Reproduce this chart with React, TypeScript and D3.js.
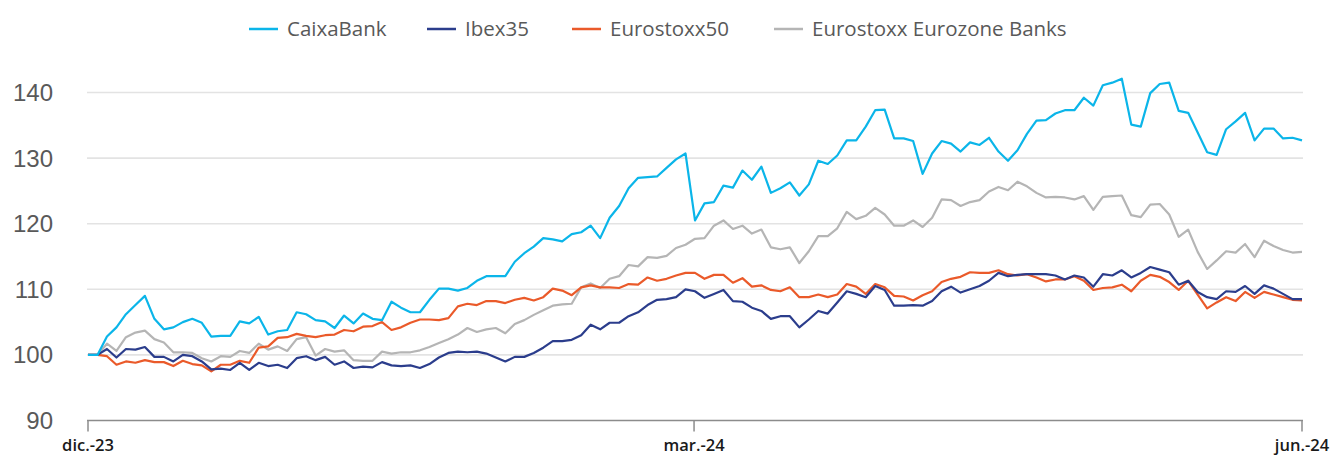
import * as d3 from 'd3';

const W = 1336;
const H = 457;

const seriesNames = ['CaixaBank', 'Ibex35', 'Eurostoxx50', 'Eurostoxx Eurozone Banks'];
const seriesColors = ['#0bb5e9', '#2b3d8c', '#ea5a2a', '#b5b5b5'];

const xTickLabels = ['dic.-23', 'mar.-24', 'jun.-24'];
const xTickIndex = [0, 63.9, 128];
const yTicks = [90, 100, 110, 120, 130, 140];

const caixaBank = [
  100, 100, 102.8, 104.2, 106.2, 107.6, 109.0, 105.5, 103.9, 104.2, 105.0, 105.5, 104.9, 102.8, 102.9, 102.9,
  105.1, 104.8, 105.8, 103.1, 103.6, 103.8, 106.5, 106.2, 105.3, 105.1, 104.1, 106.0, 104.8, 106.3, 105.5, 105.3,
  108.1, 107.2, 106.5, 106.5, 108.4, 110.1, 110.1, 109.8, 110.2, 111.3, 112.0, 112.0, 112.0, 114.2, 115.5, 116.5,
  117.8, 117.6, 117.3, 118.4, 118.7, 119.7, 117.8, 120.9, 122.7, 125.4, 127.0, 127.1, 127.2, 128.5, 129.8, 130.7,
  120.5, 123.1, 123.3, 125.8, 125.5, 128.1, 126.7, 128.7, 124.7, 125.4, 126.3, 124.3, 126.0, 129.6, 129.1, 130.4,
  132.7, 132.7, 134.8, 137.3, 137.4, 133.0, 133.0, 132.6, 127.6, 130.7, 132.6, 132.2, 131.0, 132.4, 132.0, 133.1,
  131.0, 129.6, 131.2, 133.7, 135.7, 135.8, 136.8, 137.3, 137.3, 139.2, 138.0, 141.1, 141.5, 142.1, 135.1, 134.8,
  139.9, 141.3, 141.5, 137.2, 136.9, 133.9, 130.9, 130.5, 134.4, 135.6, 136.9, 132.7, 134.5, 134.5, 133.0, 133.1,
  132.7,
];

const ibex35 = [
  100, 100, 100.9, 99.6, 100.9, 100.8, 101.2, 99.7, 99.7, 99.0, 100.0, 99.8, 99.0, 97.8, 97.9, 97.7,
  98.8, 97.7, 98.8, 98.3, 98.5, 98.0, 99.5, 99.8, 99.2, 99.7, 98.5, 99.0, 98.0, 98.2, 98.1, 98.9,
  98.4, 98.3, 98.4, 98.0, 98.6, 99.6, 100.3, 100.5, 100.4, 100.5, 100.2, 99.6, 99.0, 99.7, 99.7, 100.3,
  101.1, 102.1, 102.1, 102.3, 103.0, 104.6, 103.9, 104.9, 104.9, 105.9, 106.5, 107.6, 108.4, 108.5, 108.8, 110.0,
  109.7, 108.7, 109.3, 109.9, 108.2, 108.1, 107.2, 106.7, 105.5, 105.9, 105.9, 104.2, 105.4, 106.7, 106.3, 108.0,
  109.7, 109.3, 108.8, 110.5, 109.9, 107.5, 107.5, 107.6, 107.5, 108.2, 109.7, 110.4, 109.5, 110.0, 110.5, 111.3,
  112.5, 112.0, 112.2, 112.3, 112.3, 112.3, 112.1, 111.5, 112.1, 111.8, 110.4, 112.3, 112.1, 112.9, 111.8, 112.5,
  113.4, 113.0, 112.6, 110.7, 111.3, 109.6, 108.8, 108.5, 109.7, 109.6, 110.5, 109.3, 110.6, 110.1, 109.3, 108.5,
  108.5,
];

const eurostoxx50 = [
  100, 100, 99.8, 98.5, 99.0, 98.8, 99.2, 98.9, 98.9, 98.3, 99.1, 98.6, 98.4, 97.5, 98.5, 98.5,
  99.1, 98.8, 101.1, 101.3, 102.6, 102.7, 103.2, 102.9, 102.7, 103.0, 103.1, 103.8, 103.6, 104.3, 104.4, 105.0,
  103.8, 104.2, 104.9, 105.4, 105.4, 105.3, 105.6, 107.4, 107.8, 107.6, 108.2, 108.2, 107.9, 108.4, 108.7, 108.3,
  108.8, 110.1, 109.8, 109.1, 110.3, 110.6, 110.3, 110.3, 110.2, 110.8, 110.7, 111.8, 111.3, 111.6, 112.1, 112.5,
  112.5, 111.6, 112.2, 112.2, 111.0, 111.7, 110.4, 110.6, 109.9, 109.7, 110.3, 108.8, 108.8, 109.2, 108.8, 109.2,
  110.8, 110.4, 109.3, 110.8, 110.3, 109.0, 108.9, 108.3, 109.1, 109.7, 111.1, 111.6, 111.9, 112.6, 112.5, 112.5,
  112.9, 112.3, 112.1, 112.3, 111.8, 111.2, 111.5, 111.5, 112.0, 111.3, 109.9, 110.2, 110.3, 110.7, 109.7, 111.3,
  112.2, 111.9, 111.1, 109.9, 111.3, 109.2, 107.1, 108.0, 108.8, 108.2, 109.6, 108.7, 109.6, 109.2, 108.8, 108.4,
  108.3,
];

const eurozoneBanks = [
  100, 100, 101.7, 100.6, 102.7, 103.4, 103.7, 102.4, 101.9, 100.4, 100.4, 100.3, 99.5, 99.0, 99.8, 99.7,
  100.6, 100.3, 101.7, 100.8, 101.3, 100.6, 102.4, 102.7, 99.9, 100.9, 100.5, 100.7, 99.2, 99.1, 99.1, 100.5,
  100.2, 100.4, 100.4, 100.7, 101.2, 101.8, 102.4, 103.1, 104.1, 103.5, 103.9, 104.1, 103.3, 104.7, 105.3, 106.1,
  106.8, 107.5, 107.7, 107.8, 110.3, 110.9, 110.2, 111.6, 112.0, 113.7, 113.5, 114.9, 114.8, 115.1, 116.3, 116.8,
  117.7, 117.8, 119.7, 120.5, 119.2, 119.7, 118.5, 119.1, 116.4, 116.1, 116.4, 114.0, 115.8, 118.1, 118.1, 119.3,
  121.8, 120.7, 121.2, 122.4, 121.4, 119.7, 119.7, 120.5, 119.5, 120.9, 123.7, 123.6, 122.7, 123.3, 123.6, 124.9,
  125.6, 125.1, 126.4, 125.7, 124.7, 124.0, 124.1, 124.0, 123.7, 124.2, 122.1, 124.1, 124.2, 124.3, 121.3, 121.0,
  122.9, 123.0, 121.4, 118.0, 119.1, 115.7, 113.1, 114.4, 115.8, 115.6, 116.9, 114.9, 117.4, 116.6, 116.0, 115.6,
  115.7,
];

const seriesData = [caixaBank, ibex35, eurostoxx50, eurozoneBanks];
// draw order: grey at back, blue on top
const drawOrder = [3, 2, 1, 0];

export default function App() {
  const n = caixaBank.length;
  const x = d3.scaleLinear().domain([0, n - 1]).range([88, 1302]);
  const y = d3.scaleLinear().domain([90, 140]).range([420.5, 92.5]);

  const line = d3
    .line<number>()
    .x((_, i) => x(i))
    .y((d) => y(d));

  const legendX = [249, 427, 572, 774];

  return (
    <svg
      width={W}
      height={H}
      style={{ position: 'absolute', left: 0, top: 0, background: '#fff' }}
    >
      {/* legend */}
      {seriesNames.map((name, i) => (
        <g key={name} transform={`translate(${legendX[i]},29)`}>
          <line x1={0} x2={29} y1={0} y2={0} stroke={seriesColors[i]} strokeWidth={2.5} />
          <text
            x={38}
            y={0}
            dy="0.35em"
            fontFamily="'Open Sans', sans-serif"
            fontSize={20.5}
            fill="#595959"
          >
            {name}
          </text>
        </g>
      ))}

      {/* gridlines */}
      {yTicks
        .filter((t) => t > 90)
        .map((t) => (
          <line key={t} x1={87} x2={1303} y1={y(t)} y2={y(t)} stroke="#e3e3e3" strokeWidth={1.6} />
        ))}

      {/* y labels */}
      {yTicks.map((t) => (
        <text
          key={t}
          x={53}
          y={y(t)}
          dy="0.35em"
          textAnchor="end"
          fontFamily="'Liberation Sans', Arial, sans-serif"
          fontSize={24}
          fill="#595959"
        >
          {t}
        </text>
      ))}

      {/* x axis */}
      <line x1={87} x2={1303} y1={y(90)} y2={y(90)} stroke="#8c8c8c" strokeWidth={1.5} />
      {xTickIndex.map((t, i) => (
        <g key={xTickLabels[i]}>
          <line x1={x(t)} x2={x(t)} y1={y(90)} y2={y(90) + 11} stroke="#8c8c8c" strokeWidth={1.5} />
          <text
            x={x(t)}
            y={451}
            textAnchor="middle"
            fontFamily="'Open Sans', sans-serif"
            fontWeight={600}
            fontSize={16.5}
            fill="#1a1a1a"
          >
            {xTickLabels[i]}
          </text>
        </g>
      ))}

      {/* series */}
      {drawOrder.map((s) => (
        <path
          key={seriesNames[s]}
          d={line(seriesData[s]) || ''}
          fill="none"
          stroke={seriesColors[s]}
          strokeWidth={2.2}
          strokeLinejoin="round"
        />
      ))}
    </svg>
  );
}
